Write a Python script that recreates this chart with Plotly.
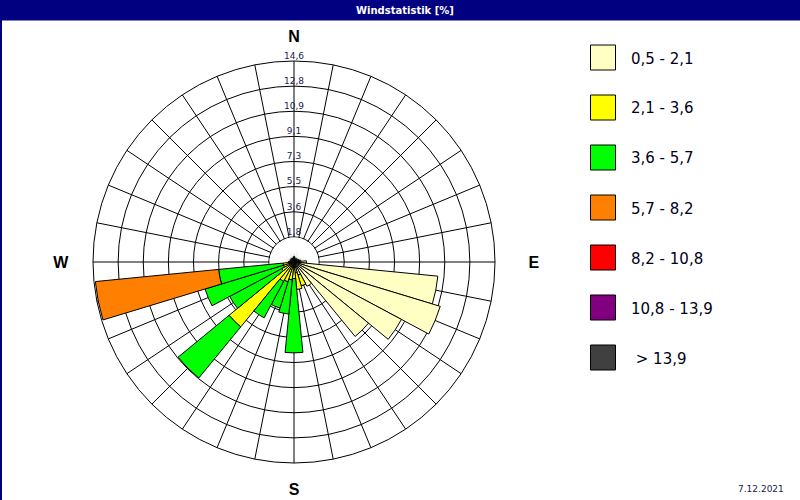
import numpy as np
import plotly.graph_objects as go

# 32 compass directions (clockwise from North)
directions = ["N", "NbE", "NNE", "NEbN", "NE", "NEbE", "ENE", "EbN",
              "E", "EbS", "ESE", "SEbE", "SE", "SEbS", "SSE", "SbE",
              "S", "SbW", "SSW", "SWbS", "SW", "SWbW", "WSW", "WbS",
              "W", "WbN", "WNW", "NWbW", "NW", "NWbN", "NNW", "NbW"]
cardinal_labels = {"N": "N", "E": "\u00a0\u00a0\u00a0\u00a0E",
                   "S": "S", "W": "W\u00a0\u00a0"}

speed_classes = ["0,5 - 2,1", "2,1 - 3,6", "3,6 - 5,7", "5,7 - 8,2",
                 "8,2 - 10,8", "10,8 - 13,9", " > 13,9"]
class_colors = ["#ffffc4", "#ffff00", "#00ff00", "#ff8000",
                "#ff0000", "#800080", "#404040"]

# frequency [%] per direction and speed class (increments)
freq_05_21 = [0.4, 0.3, 0.3, 0.3, 0.3, 0.3, 0.4, 0.5,
              0.9, 10.5, 11.1, 8.85, 7.0, 2.0, 1.0, 0.8,
              0.5, 0.3, 0.3, 0.3, 0.4, 0.3, 0.3, 0.3,
              0.4, 0.3, 0.3, 0.3, 0.3, 0.3, 0.3, 0.3]
freq_21_36 = [0, 0, 0, 0, 0, 0, 0, 0,
              0, 0, 0, 0, 0, 0, 0.8, 1.2,
              0.7, 1.0, 1.2, 1.3, 5.7, 0.7, 0.5, 0.5,
              0, 0, 0, 0, 0, 0, 0, 0]
freq_36_57 = [0, 0, 0, 0, 0, 0, 0, 0,
              0, 0, 0, 0, 0, 0, 0, 0,
              5.4, 2.5, 2.0, 3.0, 4.8, 4.3, 5.95, 4.7,
              0, 0, 0, 0, 0, 0, 0, 0]
freq_57_82 = [0, 0, 0, 0, 0, 0, 0, 0,
              0, 0, 0, 0, 0, 0, 0, 0,
              0, 0, 0, 0, 0, 0, 0, 9.0,
              0, 0, 0, 0, 0, 0, 0, 0]
freq_82_108 = [0] * 32
freq_108_139 = [0] * 32
freq_gt_139 = [0] * 32

radial_tickvals = [1.825, 3.65, 5.475, 7.3, 9.125, 10.95, 12.775, 14.6]
radial_ticktext = ["1,8", "3,6", "5,5", "7,3", "9,1", "10,9", "12,8", "14,6"]

title_text = "Windstatistik [%]"
date_text = "7.12.2021"

# ---------------------------------------------------------------
W, H = 800, 500
n_dir = len(directions)
sector = 360 / n_dir
theta = [i * sector for i in range(n_dir)]

series = [freq_05_21, freq_21_36, freq_36_57, freq_57_82,
          freq_82_108, freq_108_139, freq_gt_139]

fig = go.Figure()

# white inner disk hiding the spokes inside the innermost ring
fig.add_trace(go.Barpolar(
    r=[radial_tickvals[0] * 0.975] * n_dir, theta=theta, width=[sector] * n_dir,
    base=[0] * n_dir, marker=dict(color="white", line=dict(width=0)),
    hoverinfo="skip", showlegend=False))

cum = np.zeros(n_dir)
for name, col, vals in zip(speed_classes, class_colors, series):
    vals = np.array(vals, dtype=float)
    idx = [i for i in range(n_dir) if vals[i] > 0]
    if idx:
        fig.add_trace(go.Barpolar(
            r=[vals[i] for i in idx], theta=[theta[i] for i in idx],
            base=[cum[i] for i in idx], width=[sector] * len(idx),
            name=name, marker=dict(color=col, line=dict(color="black", width=1)),
            showlegend=False))
    cum = cum + vals

# radial tick labels along north line
fig.add_trace(go.Scatterpolar(
    r=radial_tickvals, theta=[0] * len(radial_tickvals),
    mode="text", text=radial_ticktext, textposition="top center",
    cliponaxis=False,
    textfont=dict(family="DejaVu Sans", size=9, color="#202050"),
    hoverinfo="skip", showlegend=False))

def px_x(x):
    return x / W

def px_y(y):
    return 1 - y / H

cx, cy, rad = 294, 262, 201

fig.update_layout(
    width=W, height=H,
    margin=dict(l=0, r=0, t=0, b=0),
    paper_bgcolor="white",
    showlegend=False,
    polar=dict(
        domain=dict(x=[px_x(cx - rad), px_x(cx + rad)],
                    y=[px_y(cy + rad), px_y(cy - rad)]),
        bgcolor="white",
        barmode="overlay",
        radialaxis=dict(range=[0, radial_tickvals[-1]], tickvals=radial_tickvals,
                        showticklabels=False, ticks="", showline=False,
                        gridcolor="black", gridwidth=1),
        angularaxis=dict(rotation=90, direction="clockwise",
                         tickvals=theta,
                         ticktext=[cardinal_labels.get(d, "") for d in directions],
                         ticks="outside", ticklen=12, tickcolor="rgba(0,0,0,0)",
                         tickfont=dict(family="Liberation Sans", size=16,
                                       color="black", weight="bold"),
                         showline=True, linecolor="black", linewidth=1,
                         gridcolor="black", gridwidth=1),
    ),
)

shapes = []
annotations = []
# title bar
shapes.append(dict(type="rect", xref="paper", yref="paper", x0=0, x1=1,
                   y0=px_y(20.5), y1=1, fillcolor="#000080", line=dict(width=0)))
shapes.append(dict(type="rect", xref="paper", yref="paper", x0=0, x1=px_x(2),
                   y0=0, y1=1, fillcolor="#000080", line=dict(width=0)))
annotations.append(dict(text="<b>" + title_text + "</b>", x=px_x(405), y=px_y(10.5),
                        xref="paper", yref="paper", showarrow=False,
                        xanchor="center", yanchor="middle",
                        font=dict(family="DejaVu Sans", size=10, color="white")))
# legend
for i, (name, col) in enumerate(zip(speed_classes, class_colors)):
    y0 = 45 + 50 * i
    shapes.append(dict(type="rect", xref="paper", yref="paper",
                       x0=px_x(590.5), x1=px_x(615.5), y0=px_y(y0 + 25), y1=px_y(y0),
                       fillcolor=col, line=dict(color="black", width=1)))
    annotations.append(dict(text=name, x=px_x(629), y=px_y(y0 + 13.5),
                            xref="paper", yref="paper", showarrow=False,
                            xanchor="left", yanchor="middle",
                            font=dict(family="DejaVu Sans", size=15, color="#000018")))
annotations.append(dict(text=date_text, x=px_x(786), y=px_y(489),
                        xref="paper", yref="paper", showarrow=False,
                        xanchor="right", yanchor="middle",
                        font=dict(family="DejaVu Sans", size=9, color="#202050")))

fig.update_layout(shapes=shapes, annotations=annotations)
fig.write_html("out.html")
